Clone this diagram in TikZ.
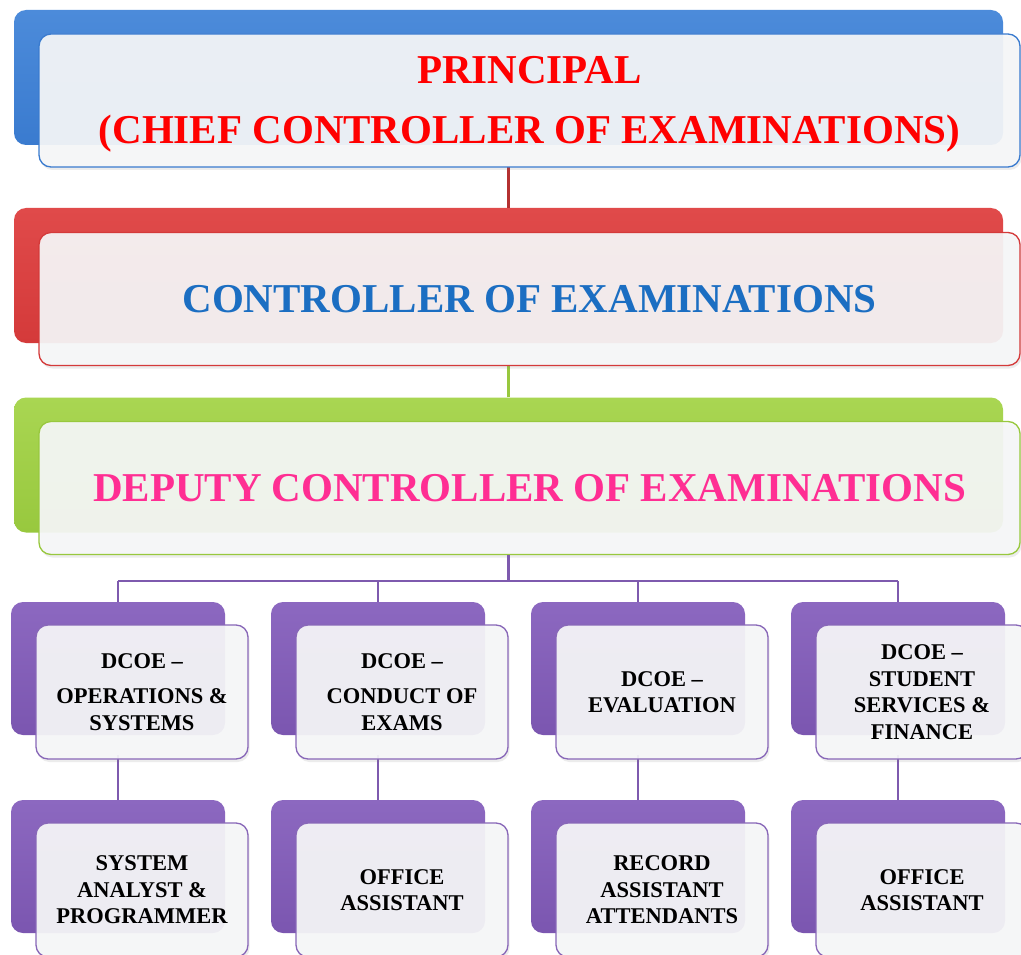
\documentclass[tikz,border=0pt]{standalone}
\usepackage{fontspec}
\setmainfont{Liberation Serif}
\usetikzlibrary{shadows}
\definecolor{bblue}{HTML}{3A7BCF}
\definecolor{bbluel}{HTML}{4C8BDA}
\definecolor{bred}{HTML}{D43A3A}
\definecolor{bredl}{HTML}{E04A4A}
\definecolor{bgreen}{HTML}{98C83E}
\definecolor{bgreenl}{HTML}{A9D652}
\definecolor{bpurple}{HTML}{7B56B0}
\definecolor{bpurplel}{HTML}{8C68C0}
\definecolor{tred}{HTML}{FF0000}
\definecolor{tblue}{HTML}{1B6EC2}
\definecolor{tpink}{HTML}{FF2E93}
\definecolor{lnpurple}{HTML}{7E5AAE}
\definecolor{ffill}{HTML}{F6F7F8}
\tikzset{
  backbox/.style={rectangle, rounded corners=12pt, inner sep=0pt, draw=none},
  bigback/.style={backbox, minimum width=989pt, minimum height=135pt},
  smallback/.style={backbox, minimum width=214pt, minimum height=133pt},
  frontbox/.style={rectangle, rounded corners=12pt, inner sep=0pt, line width=1.3pt,
    fill=ffill, fill opacity=0.93, text opacity=1, align=center, font=\bfseries,
    drop shadow={opacity=0.15, shadow xshift=1.5pt, shadow yshift=-3pt}},
  bigfront/.style={frontbox, minimum width=981pt, minimum height=133pt},
  smallfront/.style={frontbox, minimum width=212pt, minimum height=134pt},
  bigtext/.style={font=\bfseries\fontsize{41}{60}\selectfont},
  smalltext/.style={font=\bfseries\fontsize{22.5}{26.5}\selectfont},
  conn/.style={line width=3pt},
}
\begin{document}
\begin{tikzpicture}[x=1pt,y=-1pt]
\useasboundingbox (0,0) rectangle (1021,955);
\fill[white] (0,0) rectangle (1021,955);

% level 1
\node[bigback, top color=bbluel, bottom color=bblue] (b1) at (508.5,77.5) {};
\node[bigback, top color=bredl, bottom color=bred] (b2) at (508.5,275.5) {};
\node[bigback, top color=bgreenl, bottom color=bgreen] (b3) at (508.5,465) {};

% connectors between big boxes
\coordinate (f1s) at (508.5,167);
\coordinate (f2s) at (508.5,366);
\draw[conn, color=bred!85!black] (b2.north) -- (f1s);
\draw[conn, color=bgreen] (b3.north) -- (f2s);

\node[bigfront, draw=bblue] (f1) at (529.5,100.5) {};
\node[bigtext, text=tred, align=center, inner sep=0pt] (f1t) at (529.5,104)
  {PRINCIPAL\\(CHIEF CONTROLLER OF EXAMINATIONS)};
\node[bigfront, draw=bred, bigtext, text=tblue] (f2) at (529.5,299)
  {CONTROLLER OF EXAMINATIONS};
\node[bigfront, draw=bgreen, bigtext, text=tpink] (f3) at (529.5,488)
  {DEPUTY CONTROLLER OF EXAMINATIONS};

% small back boxes
\foreach \i in {0,1,2,3} {
  \node[smallback, top color=bpurplel, bottom color=bpurple] (s\i) at (118+260*\i,668.5) {};
  \node[smallback, top color=bpurplel, bottom color=bpurple] (t\i) at (118+260*\i,866.5) {};
}

% tree connectors
\coordinate (bus) at (508.5,581);
\draw[conn, color=lnpurple, line width=2.8pt] (f3.south -| bus) -- (bus);
\draw[conn, color=lnpurple, line width=2.8pt] (s0.north |- bus) -- (s3.north |- bus);
\foreach \i in {0,1,2,3} {
  \draw[conn, color=lnpurple, line width=2.8pt] (s\i.north |- bus) -- (s\i.north);
  \path (s\i.south) ++(0,20) coordinate (m\i);
  \draw[conn, color=lnpurple, line width=2.8pt] (m\i) -- (t\i.north);
}

% small front boxes
\tikzset{pfront/.style={smallfront, draw=bpurple!90!white, smalltext, text=black}}
\node[pfront] (sf0) at (142,692) {DCOE --\\[9pt]OPERATIONS \&\\SYSTEMS};
\node[pfront] (sf1) at (402,692) {DCOE --\\[9pt]CONDUCT OF\\EXAMS};
\node[pfront] (sf2) at (662,692) {DCOE --\\EVALUATION};
\node[pfront] (sf3) at (922,692) {DCOE --\\STUDENT\\SERVICES \&\\FINANCE};

\node[pfront] (tf0) at (142,890) {SYSTEM\\ANALYST \&\\PROGRAMMER};
\node[pfront] (tf1) at (402,890) {OFFICE\\ASSISTANT};
\node[pfront] (tf2) at (662,890) {RECORD\\ASSISTANT\\ATTENDANTS};
\node[pfront] (tf3) at (922,890) {OFFICE\\ASSISTANT};
\end{tikzpicture}
\end{document}
